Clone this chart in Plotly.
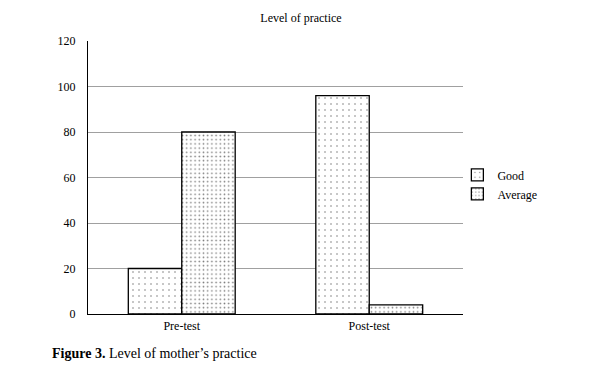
import plotly.graph_objects as go

categories = ["Pre-test", "Post-test"]
good = [20, 96]
average = [80, 4]
y_ticks = [0, 20, 40, 60, 80, 100, 120]

font_family = "Liberation Serif, Times New Roman, serif"

fig = go.Figure()
fig.add_trace(go.Bar(
    x=categories, y=good, name="Good",
    marker=dict(color="white", line=dict(color="black", width=1.3),
                pattern=dict(shape=".", fgcolor="black", bgcolor="white", size=6, solidity=0.06)),
))
fig.add_trace(go.Bar(
    x=categories, y=average, name="Average",
    marker=dict(color="white", line=dict(color="black", width=1.3),
                pattern=dict(shape=".", fgcolor="black", bgcolor="white", size=4.2, solidity=0.12)),
))

fig.update_layout(
    width=589, height=369,
    margin=dict(l=88, r=126, t=41, b=55),
    paper_bgcolor="white", plot_bgcolor="white",
    font=dict(family=font_family, size=12, color="black"),
    barmode="group", bargap=0.43, bargroupgap=0,
    showlegend=True,
    legend=dict(x=0.985, y=0.475, xanchor="left", yanchor="middle",
                font=dict(size=12, family=font_family), itemwidth=30,
                tracegroupgap=5, bgcolor="rgba(0,0,0,0)"),
    title=dict(text="Level of practice", x=(301) / 589, xanchor="center",
               y=1 - 18 / 369, yanchor="middle", font=dict(size=12, family=font_family)),
)
fig.update_yaxes(range=[0, 120], tickvals=y_ticks, showgrid=True, gridcolor="#a0a0a0",
                 gridwidth=1, showline=True, linecolor="black", linewidth=1,
                 ticks="", ticklen=0, ticklabelstandoff=9, tickfont=dict(size=12), zeroline=False)
fig.update_xaxes(showline=True, linecolor="black", linewidth=1.3, ticks="",
                 tickfont=dict(size=12), showgrid=False)

fig.add_annotation(text="<b>Figure 3.</b> Level of mother’s practice",
                   xref="paper", yref="paper", x=(50 - 88) / 375, y=-(353 - 314) / 273,
                   xanchor="left", yanchor="middle", showarrow=False,
                   font=dict(size=14, family=font_family))

fig.write_html("out.html")
